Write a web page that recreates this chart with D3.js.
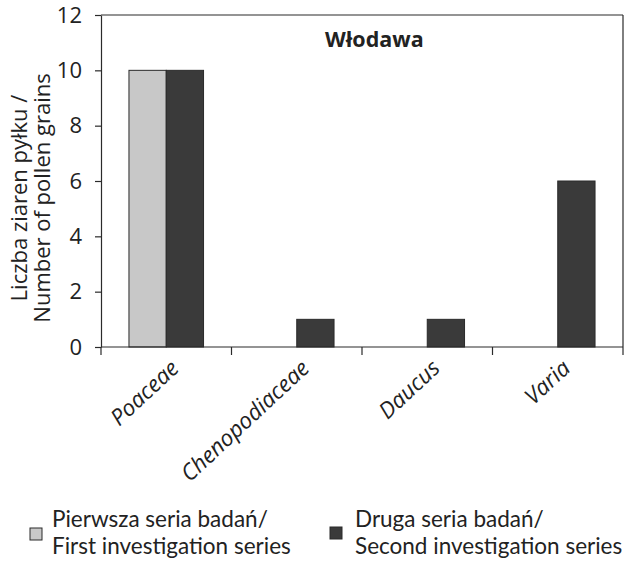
<!DOCTYPE html>
<html>
<head>
<meta charset="utf-8">
<script src="https://cdn.jsdelivr.net/npm/d3@7/dist/d3.min.js"></script>
<style>
  html, body { margin: 0; padding: 0; background: #fff; }
  svg { display: block; font-family: "Open Sans", Lato, sans-serif; }
</style>
</head>
<body>
<svg id="chart" width="634" height="564"></svg>
<script>
const categories = ["Poaceae", "Chenopodiaceae", "Daucus", "Varia"];
const seriesNames = ["Pierwsza seria badań/ First investigation series", "Druga seria badań/ Second investigation series"];
const firstSeries = [10, 0, 0, 0];
const secondSeries = [10, 1, 1, 6];
const yTicks = [0, 2, 4, 6, 8, 10, 12];
const title = "Włodawa";
const yLabelLines = ["Liczba ziaren pyłku /", "Number of pollen grains"];
const legendLines = [["Pierwsza seria badań/", "First investigation series"], ["Druga seria badań/", "Second investigation series"]];
const colors = ["#c8c8c8", "#3a3a3a"];

(function () {
const svg = d3.select("#chart");
const pLeft = 101, pRight = 623, pTop = 15, pBottom = 347;
const axisColor = "#2b2b2b";

const x0 = d3.scaleBand().domain(categories).range([pLeft, pRight]).paddingInner(0).paddingOuter(0);
const x1 = d3.scaleBand().domain([0, 1]).range([0, x0.bandwidth()]).paddingInner(0).paddingOuter(0.75);
const y = d3.scaleLinear().domain([0, 12]).range([pBottom, pTop]);

const series = [firstSeries, secondSeries];

// bars
series.forEach((vals, si) => {
  svg.append("g").selectAll("rect")
    .data(categories.map((c, i) => ({c, v: vals[i]})).filter(d => d.v > 0))
    .join("rect")
    .attr("x", d => x0(d.c) + x1(si))
    .attr("width", x1.bandwidth())
    .attr("y", d => y(d.v))
    .attr("height", d => y(0) - y(d.v))
    .attr("fill", colors[si])
    .attr("stroke", "#2a2a2a")
    .attr("stroke-width", 1);
});

// frame top and right
svg.append("line").attr("x1", pLeft).attr("x2", pRight).attr("y1", pTop).attr("y2", pTop)
  .attr("stroke", axisColor).attr("stroke-width", 1.2);
svg.append("line").attr("x1", pRight).attr("x2", pRight).attr("y1", pTop).attr("y2", pBottom)
  .attr("stroke", axisColor).attr("stroke-width", 1.2);

// y axis
const yAxis = svg.append("g").attr("transform", `translate(${pLeft},0)`)
  .call(d3.axisLeft(y).tickValues(yTicks).tickSize(6).tickPadding(13).tickSizeOuter(0));
yAxis.select(".domain").attr("stroke", axisColor).attr("stroke-width", 1.2);
yAxis.selectAll(".tick line").attr("stroke", axisColor).attr("stroke-width", 1.2);
yAxis.selectAll(".tick text").attr("font-size", 22).attr("fill", "#222").attr("font-family", "Open Sans");

// x axis line
svg.append("line").attr("x1", pLeft).attr("x2", pRight).attr("y1", pBottom).attr("y2", pBottom)
  .attr("stroke", axisColor).attr("stroke-width", 1.2);
// x ticks at band boundaries
const boundaries = categories.map(c => x0(c)).concat([x0.range()[1]]);
svg.append("g").selectAll("line").data(boundaries).join("line")
  .attr("x1", d => d).attr("x2", d => d).attr("y1", pBottom).attr("y2", pBottom + 8)
  .attr("stroke", axisColor).attr("stroke-width", 1.2);

// x labels
svg.append("g").selectAll("text").data(categories).join("text")
  .attr("transform", d => `translate(${x0(d) + x0.bandwidth() / 2 + 14},370) rotate(-43)`)
  .attr("text-anchor", "end")
  .attr("font-size", 22.5)
  .attr("font-style", "italic")
  .attr("fill", "#222")
  .text(d => d);

// y label (one text, two lines)
const yl = svg.append("text").attr("transform", "translate(0,198) rotate(-90)")
  .attr("text-anchor", "middle").attr("font-size", 22).attr("fill", "#222");
yLabelLines.forEach((t, i) => {
  yl.append("tspan").attr("x", 0).attr("y", 27 + i * 23).text(t);
});

// title
svg.append("text").attr("x", 325).attr("y", 47).attr("font-size", 21.5)
  .attr("font-weight", "bold").attr("fill", "#222").text(title);

// legend
const legendPos = [{sx: 30, sy: 528, tx: 52}, {sx: 330, sy: 527, tx: 355}];
legendLines.forEach((lines, i) => {
  const p = legendPos[i];
  svg.append("rect").attr("x", p.sx).attr("y", p.sy).attr("width", 12).attr("height", 12)
    .attr("fill", colors[i]).attr("stroke", "#2a2a2a").attr("stroke-width", 1);
  lines.forEach((s, j) => {
    svg.append("text").attr("x", p.tx).attr("y", 527 + j * 27)
      .attr("font-family", "Lato").attr("font-size", 22.5).attr("fill", "#222").text(s);
  });
});
})();
</script>
</body>
</html>
